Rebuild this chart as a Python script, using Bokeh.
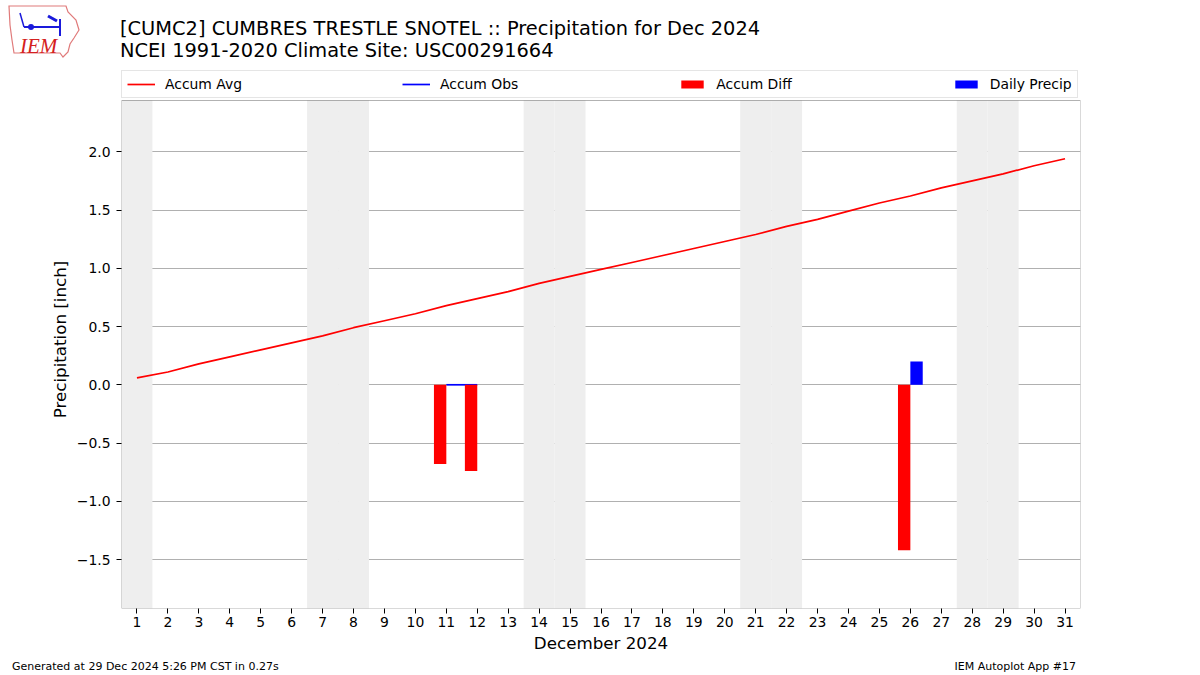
import datetime
from bokeh.plotting import figure
from bokeh.layouts import column
from bokeh.models import (ColumnDataSource, Legend, LegendItem, Div,
                          FixedTicker, CustomJSTickFormatter, Range1d, BoxAnnotation)
from bokeh.transform import dodge
from bokeh.embed import file_html
from bokeh.resources import INLINE

# ---------------- data ----------------
days = list(range(1, 32))
accum_avg = [0.06, 0.11, 0.18, 0.24, 0.30, 0.36, 0.42, 0.49, 0.55, 0.61,
             0.68, 0.74, 0.80, 0.87, 0.93, 0.99, 1.05, 1.11, 1.17, 1.23,
             1.29, 1.36, 1.42, 1.49, 1.56, 1.62, 1.69, 1.75, 1.81, 1.88, 1.94]
obs_days = [11, 12, 26]
obs_values = [0.0, 0.0, 0.20]
diff_days = [11, 12, 26]
diff_values = [-0.68, -0.74, -1.42]
precip_days = [26]
precip_values = [0.20]
y_ticks = [-1.5, -1.0, -0.5, 0.0, 0.5, 1.0, 1.5, 2.0]
y_limits = (-1.92, 2.44)
x_limits = (0.5, 31.5)

title1 = "[CUMC2] CUMBRES TRESTLE SNOTEL :: Precipitation for Dec 2024"
title2 = "NCEI 1991-2020 Climate Site: USC00291664"
footer_left = "Generated at 29 Dec 2024 5:26 PM CST in 0.27s"
footer_right = "IEM Autoplot App #17"
x_title = "December 2024"
y_title = "Precipitation [inch]"

FONT = "DejaVu Sans"
W = 1200
HEADER_H = 62
FOOTER_H = 14
MAIN_H = 675 - HEADER_H - FOOTER_H
LEGEND_PX = 30          # legend strip above the axes box, inside the frame
FRAME_TOP, FRAME_BOTTOM = 8, 53

# ---------------- header (titles + logo) ----------------
logo_svg = (
    '<svg style="position:absolute;left:0;top:0" width="90" height="62">'
    '<polygon points="9,6 66,6 68,12 76,20 79,30 74,38 70,44 68,52 63,57 60,53 14,53 12,40 10,25" '
    'fill="none" stroke="#e07a7a" stroke-width="1.2"/>'
    '<line x1="24" y1="27" x2="60" y2="27" stroke="#1a1adb" stroke-width="2"/>'
    '<line x1="60" y1="19" x2="60" y2="36" stroke="#1a1adb" stroke-width="2"/>'
    '<line x1="24" y1="27" x2="20" y2="13" stroke="#1a1adb" stroke-width="1.5"/>'
    '<circle cx="31" cy="27" r="3" fill="#1a1adb"/>'
    '<line x1="48" y1="16" x2="57" y2="21" stroke="#1a1adb" stroke-width="3"/>'
    '<text x="20" y="53" style="font-family:\'Liberation Serif\',serif;font-style:italic;'
    'font-size:21px;fill:#d42020">IEM</text>'
    '</svg>'
)
header_html = (
    f'<div style="position:relative;width:{W}px;height:{HEADER_H}px;overflow:hidden;'
    f'font-family:\'{FONT}\';color:black;">'
    + logo_svg +
    f'<div style="position:absolute;left:120px;top:18px;font-size:19.4px;line-height:22px;'
    f'white-space:nowrap;">{title1}</div>'
    f'<div style="position:absolute;left:120px;top:40px;font-size:19.4px;line-height:22px;'
    f'white-space:nowrap;">{title2}</div>'
    '</div>'
)
header = Div(text=header_html, width=W, height=HEADER_H, margin=(0, 0, 0, 0))

# ---------------- main plot ----------------
obs_full = [float("nan")] * len(days)
for d, v in zip(obs_days, obs_values):
    obs_full[d - 1] = v

src_line = ColumnDataSource(dict(day=days, avg=accum_avg, obs=obs_full))
src_diff = ColumnDataSource(dict(day=diff_days, val=diff_values))
src_prec = ColumnDataSource(dict(day=precip_days, val=precip_values))

frame_px = MAIN_H - FRAME_TOP - FRAME_BOTTOM
y_top = y_limits[1] + (y_limits[1] - y_limits[0]) * LEGEND_PX / (frame_px - LEGEND_PX)

p = figure(width=W, height=MAIN_H, output_backend="svg", toolbar_location=None,
           x_range=Range1d(*x_limits), y_range=Range1d(y_limits[0], y_top),
           min_border_left=121, min_border_right=120, min_border_top=FRAME_TOP,
           min_border_bottom=FRAME_BOTTOM, title=None)
p.background_fill_color = "white"
p.border_fill_color = "white"
p.outline_line_color = None

for d in days:
    if datetime.date(2024, 12, d).weekday() >= 5:
        p.add_layout(BoxAnnotation(left=d - 0.5, right=d + 0.5, bottom=y_limits[0],
                                   top=y_limits[1], fill_color="#eeeeee",
                                   fill_alpha=1.0, line_alpha=0, level="underlay"))

r_avg = p.line("day", "avg", source=src_line, line_color="#ff0000", line_width=1.7)
r_obs = p.line("day", "obs", source=src_line, line_color="#0000ff", line_width=1.7)
r_diff = p.vbar(x=dodge("day", -0.2, range=p.x_range), top="val", bottom=0, width=0.4,
                source=src_diff, fill_color="#ff0000", line_color=None)
r_prec = p.vbar(x=dodge("day", 0.2, range=p.x_range), top="val", bottom=0, width=0.4,
                source=src_prec, fill_color="#0000ff", line_color=None)

# axes box
p.add_layout(BoxAnnotation(left=x_limits[0], right=x_limits[1], bottom=y_limits[0],
                           top=y_limits[1], fill_alpha=0, line_color="black",
                           line_width=1))

p.xgrid.visible = False
p.ygrid.grid_line_color = "#b0b0b0"
p.ygrid.grid_line_width = 1
p.xaxis.ticker = FixedTicker(ticks=days)
p.yaxis.ticker = FixedTicker(ticks=y_ticks)
p.yaxis.formatter = CustomJSTickFormatter(
    code="var s = tick.toFixed(1); if (Math.abs(tick) < 1e-9) { s = '0.0'; } return s.replace('-', '\u2212');")
for ax in (p.xaxis[0], p.yaxis[0]):
    ax.axis_line_color = None
    ax.major_tick_line_color = "black"
    ax.major_tick_out = 5
    ax.major_tick_in = 0
    ax.minor_tick_line_color = None
    ax.major_label_text_font = FONT
    ax.major_label_text_font_size = "13.9px"
    ax.major_label_text_color = "black"
    ax.axis_label_text_font = FONT
    ax.axis_label_text_font_size = "16.7px"
    ax.axis_label_text_font_style = "normal"
    ax.axis_label_text_color = "black"
p.xaxis.axis_label = x_title
p.yaxis.axis_label = y_title
p.xaxis.major_label_standoff = 3
p.yaxis.major_label_standoff = 6
p.xaxis.axis_label_standoff = 3
p.yaxis.axis_label_standoff = 4

legend = Legend(items=[LegendItem(label="Accum Avg", renderers=[r_avg]),
                       LegendItem(label="Accum Obs", renderers=[r_obs]),
                       LegendItem(label="Accum Diff", renderers=[r_diff]),
                       LegendItem(label="Daily Precip", renderers=[r_prec])],
                orientation="horizontal", location="top_left",
                spacing=160, padding=5, margin=0,
                glyph_width=28, glyph_height=10, label_standoff=10, label_height=15,
                label_text_font=FONT, label_text_font_size="13.9px",
                label_text_color="black",
                border_line_color="#cccccc", border_line_width=1,
                background_fill_color="white", background_fill_alpha=1.0)
p.add_layout(legend, "center")

# ---------------- footer ----------------
footer_html = (
    f'<div style="position:relative;width:{W}px;height:{FOOTER_H}px;overflow:hidden;'
    f'font-family:\'{FONT}\';font-size:11px;line-height:12px;color:black;">'
    f'<div style="position:absolute;left:12px;top:0px;white-space:nowrap;">{footer_left}</div>'
    f'<div style="position:absolute;right:124px;top:0px;white-space:nowrap;">{footer_right}</div>'
    '</div>'
)
footer = Div(text=footer_html, width=W, height=FOOTER_H, margin=(0, 0, 0, 0))

layout = column(header, p, footer, spacing=0)
open("out.html", "w").write(file_html(layout, INLINE))
